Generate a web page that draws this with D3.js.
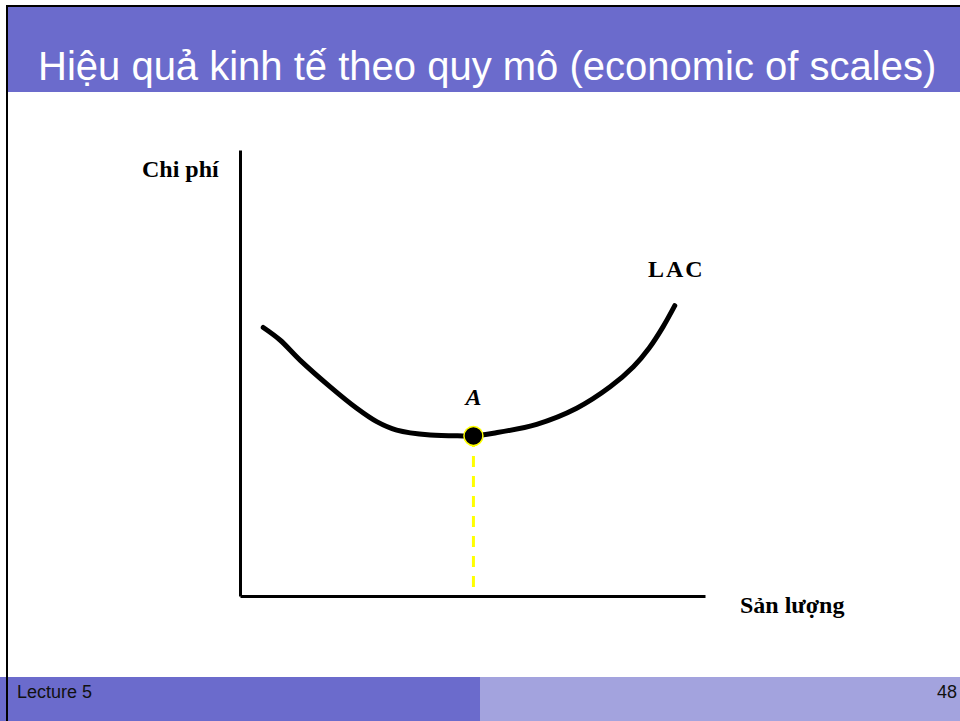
<!DOCTYPE html>
<html>
<head>
<meta charset="utf-8">
<script src="https://cdn.jsdelivr.net/npm/d3@7"></script>
<style>
  body { margin: 0; background: #fff; }
  svg { display: block; }
</style>
</head>
<body>
<div id="chart"></div>
<script>
// Đường LAC: sản lượng (Q) và chi phí (C)
const lacQ = [0.50, 0.86, 1.29, 1.94, 2.51, 2.94, 3.37, 4.09, 4.80, 5.02, 5.45, 6.38, 7.24, 7.96, 8.46, 8.80, 9.10, 9.35];
const lacC = [6.02, 5.74, 5.29, 4.69, 4.21, 3.91, 3.72, 3.61, 3.59, 3.59, 3.65, 3.85, 4.21, 4.69, 5.14, 5.56, 6.04, 6.51];
// Điểm A (chi phí trung bình thấp nhất)
const pointA = { q: 5.02, c: 3.59 };
const axisMax = 10;

const titleText = "Hiệu quả kinh tế theo quy mô (economic of scales)";
const yLabel = "Chi phí";
const xLabel = "Sản lượng";
const curveLabel = "LAC";
const footerLeft = "Lecture 5";
const footerRight = "48";

const W = 960, H = 721;
const svg = d3.select("#chart").append("svg").attr("width", W).attr("height", H);

// Nền slide, viền, thanh tiêu đề, chân trang
svg.append("rect").attr("width", W).attr("height", H).attr("fill", "#fff");
svg.append("rect").attr("x", 8).attr("y", 7).attr("width", W - 8).attr("height", 85).attr("fill", "#6b6bcc");
svg.append("rect").attr("x", 0).attr("y", 677).attr("width", 480).attr("height", H - 677).attr("fill", "#6b6bcc");
svg.append("rect").attr("x", 480).attr("y", 677).attr("width", 480).attr("height", H - 677).attr("fill", "#a3a3de");
svg.append("line").attr("x1", 6).attr("x2", W).attr("y1", 6).attr("y2", 6).attr("stroke", "#000").attr("stroke-width", 2);
svg.append("line").attr("x1", 7).attr("x2", 7).attr("y1", 5).attr("y2", H).attr("stroke", "#000").attr("stroke-width", 2);

svg.append("text")
    .attr("x", 38).attr("y", 80)
    .attr("fill", "#fff")
    .style("font-family", "'Liberation Sans', Arial, sans-serif")
    .style("font-size", "40px")
    .text(titleText);

svg.append("text")
    .attr("x", 17).attr("y", 698)
    .attr("fill", "#111")
    .style("font-family", "'Liberation Sans', Arial, sans-serif")
    .style("font-size", "18px")
    .text(footerLeft);

svg.append("text")
    .attr("x", 957).attr("y", 698)
    .attr("text-anchor", "end")
    .attr("fill", "#111")
    .style("font-family", "'Liberation Sans', Arial, sans-serif")
    .style("font-size", "18px")
    .text(footerRight);

// Thang đo
const x = d3.scaleLinear().domain([0, axisMax]).range([240, 705]);
const y = d3.scaleLinear().domain([0, axisMax]).range([596, 150]);

const serif = "'Liberation Serif', 'Times New Roman', serif";

// Trục (chỉ đường thẳng, không có vạch)
svg.append("g")
    .attr("transform", `translate(${x(0)},0)`)
    .call(d3.axisLeft(y).tickValues([]).tickSizeOuter(0))
    .select(".domain").attr("stroke", "#000").attr("stroke-width", 3);

svg.append("g")
    .attr("transform", `translate(0,${y(0)})`)
    .call(d3.axisBottom(x).tickValues([]).tickSizeOuter(0))
    .select(".domain").attr("stroke", "#000").attr("stroke-width", 3);

// Đường gạch vàng từ A xuống trục hoành
svg.append("line")
    .attr("x1", x(pointA.q)).attr("x2", x(pointA.q))
    .attr("y1", y(pointA.c)).attr("y2", y(0))
    .attr("stroke", "#ffff00")
    .attr("stroke-width", 3)
    .attr("stroke-dasharray", "11,9");

// Đường LAC
const lacData = lacQ.map((q, i) => ({ q, c: lacC[i] }));
const line = d3.line()
    .x((d) => x(d.q))
    .y((d) => y(d.c))
    .curve(d3.curveCatmullRom.alpha(0.5));

svg.append("path")
    .datum(lacData)
    .attr("d", line)
    .attr("fill", "none")
    .attr("stroke", "#000")
    .attr("stroke-width", 5)
    .attr("stroke-linecap", "round");

// Điểm A
svg.append("circle")
    .attr("cx", x(pointA.q)).attr("cy", y(pointA.c))
    .attr("r", 9.5)
    .attr("fill", "#000")
    .attr("stroke", "#ffff00")
    .attr("stroke-width", 1.5);

// Nhãn
svg.append("text")
    .attr("x", x(pointA.q)).attr("y", 405)
    .attr("text-anchor", "middle")
    .style("font-family", serif).style("font-size", "24px")
    .style("font-weight", "bold").style("font-style", "italic")
    .text("A");

svg.append("text")
    .attr("x", 648).attr("y", 277)
    .style("font-family", serif).style("font-size", "24px").style("font-weight", "bold")
    .style("letter-spacing", "2px")
    .text(curveLabel);

svg.append("text")
    .attr("x", 142).attr("y", 177)
    .style("font-family", serif).style("font-size", "24px").style("font-weight", "bold")
    .text(yLabel);

svg.append("text")
    .attr("x", 740).attr("y", 613)
    .style("font-family", serif).style("font-size", "24px").style("font-weight", "bold")
    .text(xLabel);
</script>
</body>
</html>
